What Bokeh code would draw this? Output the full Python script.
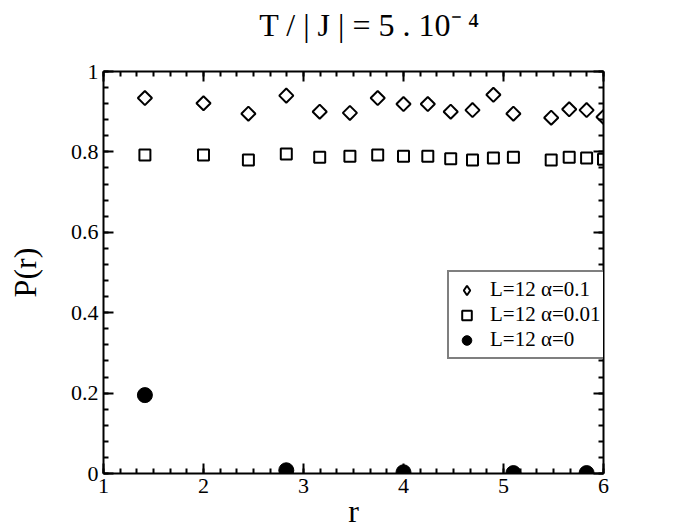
import math
from bokeh.plotting import figure
from bokeh.models import (Range1d, LinearAxis, SingleIntervalTicker, CustomJSTickFormatter,
                          Legend, LegendItem)
from bokeh.embed import file_html
from bokeh.resources import INLINE

# ---- data ----
r_values = [1.414, 2.0, 2.449, 2.828, 3.162, 3.464, 3.742, 4.0, 4.243,
            4.472, 4.690, 4.899, 5.099, 5.477, 5.657, 5.831, 6.0]
p_alpha_01 = [0.934, 0.921, 0.895, 0.940, 0.900, 0.897, 0.934, 0.919, 0.919,
              0.900, 0.904, 0.942, 0.895, 0.885, 0.906, 0.904, 0.887]
p_alpha_001 = [0.792, 0.792, 0.780, 0.795, 0.787, 0.789, 0.792, 0.789, 0.789,
               0.783, 0.780, 0.785, 0.787, 0.780, 0.787, 0.785, 0.782]
r_alpha_0 = [1.414, 2.828, 4.0, 5.099, 5.831]
p_alpha_0 = [0.195, 0.008, 0.003, 0.001, 0.001]

labels = ["L=12 \u03b1=0.1", "L=12 \u03b1=0.01", "L=12 \u03b1=0"]
title_text = "\u2003T / | J | = 5 . 10\u207b\u2009\u2074"
x_label = "r"
y_label = "P(r)"

FONT = "Liberation Serif"

p = figure(width=673, height=531, x_range=Range1d(1, 6), y_range=Range1d(0, 1),
           output_backend="svg", toolbar_location=None,
           min_border_left=103, min_border_right=70, min_border_top=71, min_border_bottom=58)
p.xgrid.visible = False
p.ygrid.visible = False
p.outline_line_color = None
p.background_fill_color = "white"
p.border_fill_color = "white"

p.add_layout(LinearAxis(), "above")
p.add_layout(LinearAxis(), "right")

xt = SingleIntervalTicker(interval=1, num_minor_ticks=6)
yt = SingleIntervalTicker(interval=0.2, num_minor_ticks=5)
yfmt = CustomJSTickFormatter(code="return String(Math.round(tick*10)/10);")

for ax in p.axis:
    ax.axis_line_width = 2
    ax.axis_line_color = "black"
    ax.major_tick_line_width = 2
    ax.minor_tick_line_width = 2
    ax.major_tick_line_color = "black"
    ax.minor_tick_line_color = "black"
    ax.major_tick_in = 10
    ax.major_tick_out = 0
    ax.minor_tick_in = 5
    ax.minor_tick_out = 0
    ax.major_label_text_font = FONT
    ax.major_label_text_font_size = "22px"
    ax.major_label_text_color = "black"
    ax.major_label_standoff = 5
    ax.axis_label_text_font = FONT
    ax.axis_label_text_font_size = "32px"
    ax.axis_label_text_font_style = "normal"
    ax.axis_label_text_color = "black"

for ax in p.xaxis:
    ax.ticker = xt
for ax in p.yaxis:
    ax.ticker = yt
    ax.formatter = yfmt

for ax in p.above + p.right:
    ax.major_label_text_font_size = "0px"
    ax.major_label_text_color = None
    ax.major_label_standoff = 0

# chart title drawn as the label of the top axis
p.above[0].axis_label = title_text
p.above[0].axis_label_standoff = 29

p.below[0].axis_label = x_label
p.below[0].axis_label_standoff = -3
p.left[0].axis_label = y_label
p.left[0].axis_label_standoff = 25

r1 = p.scatter(r_values, p_alpha_01, marker="square", angle=math.pi / 4, size=10,
               fill_color=None, line_color="black", line_width=2)
r2 = p.scatter(r_values, p_alpha_001, marker="square", size=11, fill_color=None,
               line_color="black", line_width=2)
r3 = p.scatter(r_alpha_0, p_alpha_0, marker="circle", size=15, fill_color="black",
               line_color="black", line_width=1)
# legend-only diamond glyph (same data, not drawn)
r1_key = p.scatter(r_values, p_alpha_01, marker="diamond", size=14, fill_color=None,
                   line_color="black", line_width=2, visible=False)

legend = Legend(items=[LegendItem(label=labels[0], renderers=[r1_key]),
                       LegendItem(label=labels[1], renderers=[r2]),
                       LegendItem(label=labels[2], renderers=[r3])],
                location=(344, 114), orientation="vertical")
legend.label_text_font = FONT
legend.label_text_font_size = "21px"
legend.label_text_color = "black"
legend.border_line_color = "black"
legend.border_line_width = 2
legend.background_fill_color = "white"
legend.background_fill_alpha = 1
legend.inactive_fill_alpha = 0
legend.padding = 5
legend.spacing = 0
legend.margin = 0
legend.glyph_width = 25
legend.glyph_height = 24
legend.label_height = 24
legend.label_width = 107
legend.label_standoff = 11
p.add_layout(legend, "center")

open("out.html", "w").write(file_html(p, INLINE))
